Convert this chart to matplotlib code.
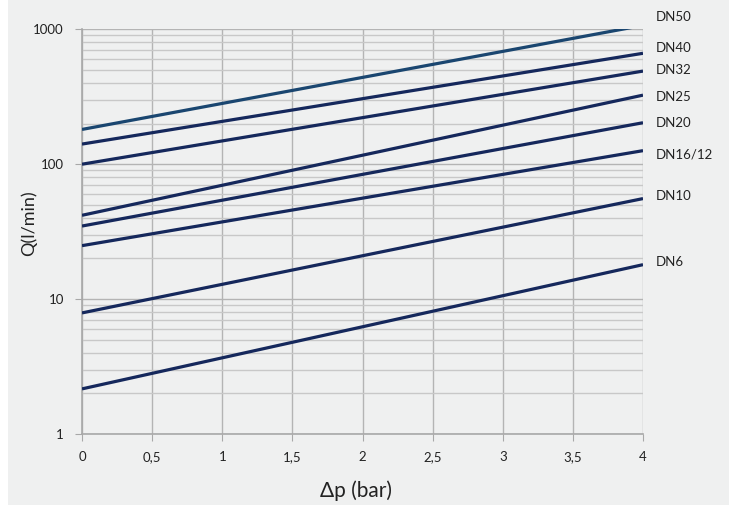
import matplotlib.pyplot as plt
from matplotlib.patches import Rectangle
from matplotlib.ticker import FixedLocator, NullFormatter

plt.rcParams['font.family'] = ['Lato', 'DejaVu Sans']

# flow at dp = 0 and dp = 4 bar for each nominal size
sizes = ["DN50", "DN40", "DN32", "DN25", "DN20", "DN16/12", "DN10", "DN6"]
dp = [0, 4]
q_start = [181, 141, 100, 41.8, 34.8, 24.9, 7.9, 2.16]
q_end = [1069, 664, 490, 325, 203, 126, 55.6, 18.0]
label_y = [1233, 726, 499, 314, 201, 119, 57.8, 18.7]
colors = ["#1a4670"] + ["#15285c"] * 7

x_ticks = [0, 0.5, 1, 1.5, 2, 2.5, 3, 3.5, 4]
x_labels = ["0", "0,5", "1", "1,5", "2", "2,5", "3", "3,5", "4"]
y_ticks = [1, 10, 100, 1000]

bg = "#eff0f0"
fig = plt.figure(figsize=(7.29, 5.05), dpi=100, facecolor=bg)
fig.patches.append(Rectangle((0, 0), 8 / 729, 1, transform=fig.transFigure,
                             facecolor="white", edgecolor="none", zorder=-1))
ax = fig.add_axes([82 / 729, 1 - 434 / 505, 561 / 729, 404.7 / 505])
ax.set_facecolor(bg)

for name, a, b, c in zip(sizes, q_start, q_end, colors):
    ax.plot(dp, [a, b], color=c, lw=2.3, solid_capstyle="butt", clip_on=True, zorder=3)

ax.set_yscale("log")
ax.set_xlim(0, 4)
ax.set_ylim(1, 1000)
ax.set_xticks(x_ticks)
ax.set_xticklabels(x_labels)
ax.yaxis.set_major_locator(FixedLocator(y_ticks))
ax.set_yticklabels([str(v) for v in y_ticks])
minor = [m * 10 ** e for e in range(3) for m in range(2, 10)]
ax.yaxis.set_minor_locator(FixedLocator(minor))
ax.yaxis.set_minor_formatter(NullFormatter())

ax.grid(True, which="major", color="#b4b4b4", lw=1.0)
ax.grid(True, which="minor", axis="y", color="#c8c8c8", lw=1.0)
ax.set_axisbelow(True)

for s in ["top", "right"]:
    ax.spines[s].set_visible(False)
for s in ["left", "bottom"]:
    ax.spines[s].set_color("#a8a8a8")
    ax.spines[s].set_linewidth(1.2)
ax.tick_params(axis="both", which="major", direction="out", length=5,
               color="#a8a8a8", labelsize=9.5, labelcolor="#222222")
ax.tick_params(axis="y", which="minor", length=0)
ax.tick_params(axis="x", pad=7)
ax.tick_params(axis="y", pad=8)

for name, yv in zip(sizes, label_y):
    ax.annotate(name, xy=(656 / 729, yv), xycoords=("figure fraction", "data"),
                va="center", ha="left", fontsize=9.5, color="#222222",
                annotation_clip=False)

ax.set_ylabel("Q(l/min)", fontsize=13, color="#222222")
ax.yaxis.set_label_coords(37 / 729, 1 - 223 / 505, transform=fig.transFigure)
ax.set_xlabel("Δp (bar)", fontsize=15, color="#222222")
ax.xaxis.set_label_coords(356 / 729, 1 - 480 / 505, transform=fig.transFigure)

fig.savefig("out.png", dpi=100, facecolor=bg)
